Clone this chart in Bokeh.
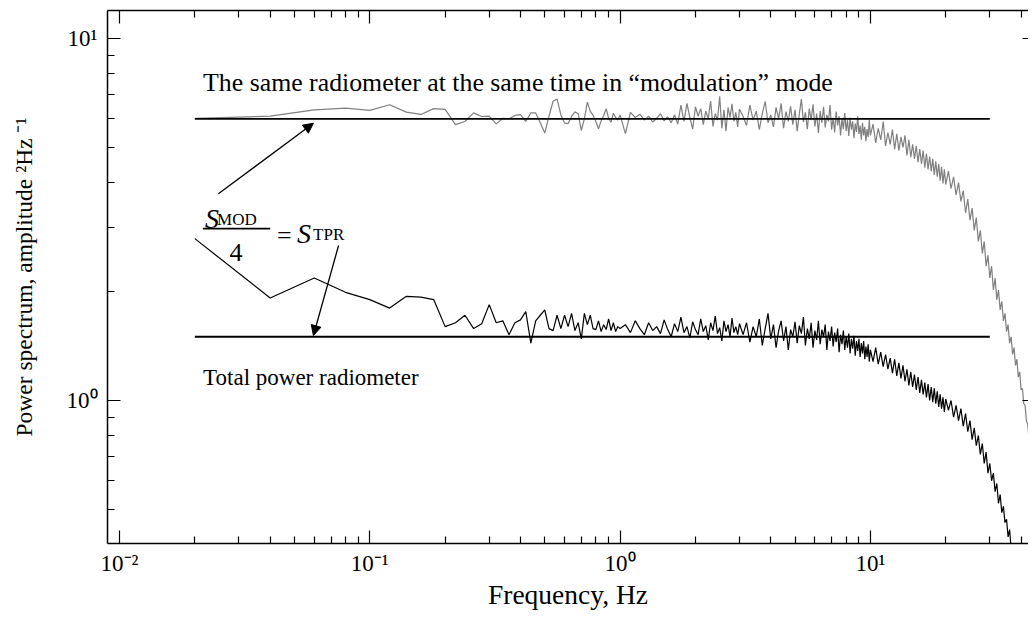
import numpy as np
from bokeh.plotting import figure
from bokeh.models import LogAxis, FixedTicker, Arrow, NormalHead
from bokeh.core.properties import value
from bokeh.embed import file_html
from bokeh.resources import INLINE

# ---------------- data ----------------
# frequency grids (Hz) of the sampled spectra
f_low = np.round(np.arange(1, 51) * 0.02, 2)          # 0.02 .. 1.00
f_mid = np.round(1.0 + np.arange(1, 41) * 0.05, 2)    # 1.05 .. 3.00
f_high = np.round(3.0 + np.arange(1, 71) * 0.1, 1)    # 3.1 .. 10.0
f_roll = np.round(10.0 + np.arange(1, 41) * 0.25, 2)  # 10.25 .. 20.0
f_tail_mod = np.round(20.0 + np.arange(1, 57) * 0.5, 1)  # 20.5 .. 48.0
f_tail_tpr = np.round(20.0 + np.arange(1, 41) * 0.5, 1)  # 20.5 .. 40.0

# Total power radiometer spectrum (black)
tpr_low = [2.80, 1.92, 2.18, 1.99, 1.90, 1.80, 1.94, 1.93, 1.90, 1.60,
           1.64, 1.72, 1.58, 1.63, 1.84, 1.64, 1.66, 1.52, 1.64, 1.67,
           1.76, 1.44, 1.66, 1.72, 1.78, 1.58, 1.56, 1.72, 1.58, 1.72,
           1.60, 1.74, 1.56, 1.64, 1.48, 1.74, 1.62, 1.72, 1.58, 1.57,
           1.66, 1.55, 1.62, 1.57, 1.68, 1.56, 1.64, 1.55, 1.60, 1.58]
tpr_mid = [1.62, 1.54, 1.66, 1.58, 1.52, 1.64, 1.56, 1.60, 1.53, 1.67,
           1.57, 1.50, 1.63, 1.55, 1.70, 1.54, 1.60, 1.49, 1.65, 1.57,
           1.52, 1.68, 1.55, 1.61, 1.47, 1.64, 1.56, 1.71, 1.53, 1.59,
           1.46, 1.66, 1.55, 1.62, 1.50, 1.69, 1.54, 1.60, 1.52, 1.63]
tpr_high = [1.52, 1.64, 1.45, 1.60, 1.50, 1.68, 1.42, 1.58, 1.74, 1.48,
            1.62, 1.40, 1.56, 1.66, 1.46, 1.60, 1.38, 1.57, 1.50, 1.65,
            1.44, 1.61, 1.53, 1.70, 1.42, 1.58, 1.48, 1.64, 1.40, 1.56,
            1.47, 1.66, 1.43, 1.57, 1.50, 1.62, 1.38, 1.55, 1.46, 1.60,
            1.41, 1.54, 1.45, 1.58, 1.36, 1.52, 1.43, 1.56, 1.38, 1.50,
            1.40, 1.53, 1.35, 1.48, 1.39, 1.51, 1.33, 1.46, 1.37, 1.48,
            1.32, 1.44, 1.35, 1.46, 1.30, 1.41, 1.32, 1.43, 1.28, 1.38]
tpr_roll = [1.28, 1.40, 1.26, 1.36, 1.24, 1.34, 1.22, 1.31, 1.19, 1.30,
            1.17, 1.27, 1.15, 1.25, 1.13, 1.22, 1.10, 1.20, 1.09, 1.18,
            1.07, 1.16, 1.05, 1.14, 1.04, 1.12, 1.02, 1.11, 1.00, 1.09,
            0.99, 1.08, 0.98, 1.06, 0.96, 1.04, 0.95, 1.02, 0.93, 1.01]
tpr_tail = [0.94, 1.00, 0.90, 0.97, 0.88, 0.95, 0.85, 0.92, 0.82, 0.88,
            0.78, 0.84, 0.75, 0.80, 0.71, 0.76, 0.67, 0.72, 0.63, 0.67,
            0.60, 0.63, 0.56, 0.59, 0.52, 0.55, 0.49, 0.51, 0.46, 0.47,
            0.42, 0.44, 0.39, 0.40, 0.36, 0.37, 0.33, 0.34, 0.31, 0.31]

# Same radiometer in modulation mode (grey)
mod_low = [6.02, 6.10, 6.35, 6.42, 6.33, 6.56, 6.26, 6.17, 6.40, 6.37,
           5.78, 5.90, 6.23, 6.09, 6.10, 5.81, 6.02, 6.00, 6.13, 6.16,
           5.90, 6.23, 6.23, 5.85, 5.48, 6.10, 6.71, 6.81, 6.15, 5.84,
           5.82, 6.09, 6.27, 6.20, 5.57, 6.00, 6.67, 6.30, 6.13, 5.90,
           5.63, 5.92, 6.13, 6.40, 6.02, 5.87, 6.22, 6.05, 5.95, 6.15]
mod_mid = [5.46, 6.25, 6.05, 6.18, 5.95, 6.10, 5.88, 6.02, 6.20, 5.92,
           6.08, 5.85, 6.15, 5.80, 6.55, 5.90, 6.62, 6.05, 5.62, 6.48,
           6.10, 6.40, 5.78, 6.30, 6.00, 6.72, 5.72, 6.20, 5.95, 6.92,
           5.65, 6.35, 5.55, 6.45, 6.05, 6.60, 5.90, 6.25, 5.70, 6.38]
mod_high = [6.10, 5.75, 6.55, 5.95, 6.30, 5.60, 6.20, 6.70, 5.85, 6.15,
            5.70, 6.45, 6.00, 6.62, 5.65, 6.28, 5.90, 6.50, 5.78, 6.35,
            5.55, 6.18, 6.80, 5.88, 6.25, 5.62, 6.40, 5.95, 6.58, 5.72,
            6.20, 5.48, 6.30, 5.85, 6.48, 5.68, 6.15, 5.90, 6.55, 5.60,
            6.05, 5.50, 6.28, 5.75, 6.10, 5.40, 6.00, 5.62, 6.22, 5.55,
            5.95, 5.38, 6.05, 5.60, 5.90, 5.30, 5.82, 5.52, 6.10, 5.45,
            5.75, 5.25, 5.85, 5.40, 5.70, 5.20, 5.62, 5.35, 5.95, 5.40]
mod_roll = [5.80, 5.15, 5.65, 5.25, 5.90, 5.05, 5.50, 5.10, 5.60, 4.95,
            5.45, 4.90, 5.35, 5.00, 5.40, 4.75, 5.25, 4.70, 5.10, 4.65,
            5.05, 4.55, 4.95, 4.50, 4.90, 4.40, 4.80, 4.35, 4.72, 4.30,
            4.65, 4.20, 4.58, 4.15, 4.50, 4.05, 4.42, 3.98, 4.35, 3.95]
mod_tail = [4.30, 3.85, 4.15, 3.70, 4.00, 3.55, 3.80, 3.30, 3.60, 3.15,
            3.40, 2.95, 3.20, 2.75, 2.95, 2.55, 2.75, 2.35, 2.52, 2.18,
            2.35, 2.02, 2.18, 1.90, 2.02, 1.78, 1.88, 1.66, 1.74, 1.55,
            1.62, 1.44, 1.50, 1.34, 1.40, 1.25, 1.30, 1.16, 1.20, 1.07,
            1.08, 0.98, 0.97, 0.88, 0.86, 0.79, 0.76, 0.69, 0.66, 0.60,
            0.56, 0.51, 0.48, 0.44, 0.41, 0.38]

# reference levels: S_MOD and S_MOD/4 = S_TPR
ref_f = [0.02, 30.0]
ref_mod = [6.0, 6.0]
ref_tpr = [1.5, 1.5]

# axes
x_major_ticks = [0.01, 0.1, 1, 10]
x_tick_labels = ["10⁻²", "10⁻¹", "10⁰", "10¹"]
x_minor_ticks = [0.02, 0.03, 0.04, 0.05, 0.06, 0.07, 0.08, 0.09,
                 0.2, 0.3, 0.4, 0.5, 0.6, 0.7, 0.8, 0.9,
                 2, 3, 4, 5, 6, 7, 8, 9, 20, 30, 40]
y_major_ticks = [1, 10]
y_tick_labels = ["10⁰", "10¹"]
y_minor_ticks = [0.5, 0.6, 0.7, 0.8, 0.9, 2, 3, 4, 5, 6, 7, 8, 9]
x_label = "Frequency, Hz"
y_label = "Power spectrum, amplitude ²Hz ⁻¹"

# annotations (data units)
top_text = "The same radiometer at the same time in “modulation” mode"
bottom_text = "Total power radiometer"
label_x = 0.02158
top_text_y = 7.56
bottom_text_y = 1.157

# ---------------- figure ----------------
SERIF = "Liberation Serif"

tpr_f = np.concatenate([f_low, f_mid, f_high, f_roll, f_tail_tpr])
tpr_v = np.array(tpr_low + tpr_mid + tpr_high + tpr_roll + tpr_tail)
mod_f = np.concatenate([f_low, f_mid, f_high, f_roll, f_tail_mod])
mod_v = np.array(mod_low + mod_mid + mod_high + mod_roll + mod_tail)

p = figure(width=1028, height=612,
           x_axis_type="log", y_axis_type="log",
           x_range=(0.008955, 42.83), y_range=(0.4027, 11.95),
           output_backend="svg", toolbar_location=None,
           min_border_left=107, min_border_right=0,
           min_border_top=10, min_border_bottom=69)
p.outline_line_color = None
p.xgrid.visible = False
p.ygrid.visible = False
p.background_fill_color = "white"
p.border_fill_color = "white"

xt = FixedTicker(ticks=x_major_ticks, minor_ticks=x_minor_ticks)
yt = FixedTicker(ticks=y_major_ticks, minor_ticks=y_minor_ticks)


def style_axis(ax, ticker, show_labels, standoff=10):
    ax.ticker = ticker
    ax.axis_line_color = "black"
    ax.axis_line_width = 1.5
    ax.major_tick_line_color = "black"
    ax.minor_tick_line_color = "black"
    ax.major_tick_line_width = 1.2
    ax.minor_tick_line_width = 1.2
    ax.major_tick_in = 13
    ax.major_tick_out = 0
    ax.minor_tick_in = 7
    ax.minor_tick_out = 0
    if show_labels:
        ax.major_label_text_font = SERIF
        ax.major_label_text_font_size = "23px"
        ax.major_label_text_color = "black"
        ax.major_label_standoff = standoff
    else:
        ax.major_label_text_font_size = "0px"
        ax.major_label_text_color = None
        ax.major_label_standoff = 0


xa = p.xaxis[0]
style_axis(xa, xt, True, standoff=7)
xa.major_label_overrides = dict(zip(x_major_ticks, x_tick_labels))
xa.axis_label = x_label
xa.axis_label_text_font = SERIF
xa.axis_label_text_font_size = "27.5px"
xa.axis_label_text_font_style = "normal"
xa.axis_label_text_color = "black"
xa.axis_label_standoff = 0

ya = p.yaxis[0]
style_axis(ya, yt, True)
ya.major_label_overrides = dict(zip(y_major_ticks, y_tick_labels))
ya.axis_label = y_label
ya.axis_label_text_font = SERIF
ya.axis_label_text_font_size = "23.5px"
ya.axis_label_text_font_style = "normal"
ya.axis_label_text_color = "black"
ya.axis_label_standoff = 27

top = LogAxis()
style_axis(top, FixedTicker(ticks=x_major_ticks, minor_ticks=x_minor_ticks), False)
p.add_layout(top, "above")

right = LogAxis()
style_axis(right, FixedTicker(ticks=y_major_ticks, minor_ticks=[]), False)
right.axis_line_color = None
right.major_tick_in = 6
p.add_layout(right, "right")

# spectra
p.line(mod_f, mod_v, line_color="#808080", line_width=1.2)
p.line(tpr_f, tpr_v, line_color="black", line_width=1.2)

# reference levels
p.line(ref_f, ref_mod, line_color="black", line_width=1.8)
p.line(ref_f, ref_tpr, line_color="black", line_width=1.8)

# text labels
p.text(x=[label_x], y=[top_text_y], text=[top_text],
       text_font=value(SERIF), text_font_size="25.8px", text_color="black",
       text_align="left", text_baseline="alphabetic")
p.text(x=[label_x], y=[bottom_text_y], text=[bottom_text],
       text_font=value(SERIF), text_font_size="23px", text_color="black",
       text_align="left", text_baseline="alphabetic")

# formula  S_MOD / 4 = S_TPR
p.text(x=[0.02198, 0.05122], y=[3.183, 2.893], text=["S", "S"],
       text_font=value(SERIF), text_font_size="28px", text_font_style="italic",
       text_color="black", text_align="left", text_baseline="alphabetic")
p.text(x=[0.02454, 0.05935], y=[3.162, 2.88], text=["MOD", "TPR"],
       text_font=value(SERIF), text_font_size="17px", text_color="black",
       text_align="left", text_baseline="alphabetic")
p.text(x=[0.02923], y=[2.564], text=["4"],
       text_font=value(SERIF), text_font_size="26px", text_color="black",
       text_align="center", text_baseline="alphabetic")
p.text(x=[0.04262], y=[2.856], text=["="],
       text_font=value(SERIF), text_font_size="26px", text_color="black",
       text_align="left", text_baseline="alphabetic")
p.line([0.02155, 0.0400], [2.985, 2.985], line_color="black", line_width=1.6)

# arrows
p.add_layout(Arrow(end=NormalHead(size=10, fill_color="black", line_color="black"),
                   x_start=0.02483, y_start=3.724, x_end=0.05953, y_end=5.834,
                   line_color="black", line_width=1.3))
p.add_layout(Arrow(end=NormalHead(size=10, fill_color="black", line_color="black"),
                   x_start=0.07503, y_start=2.68, x_end=0.05953, y_end=1.512,
                   line_color="black", line_width=1.3))

open("out.html", "w").write(file_html(p, INLINE))
